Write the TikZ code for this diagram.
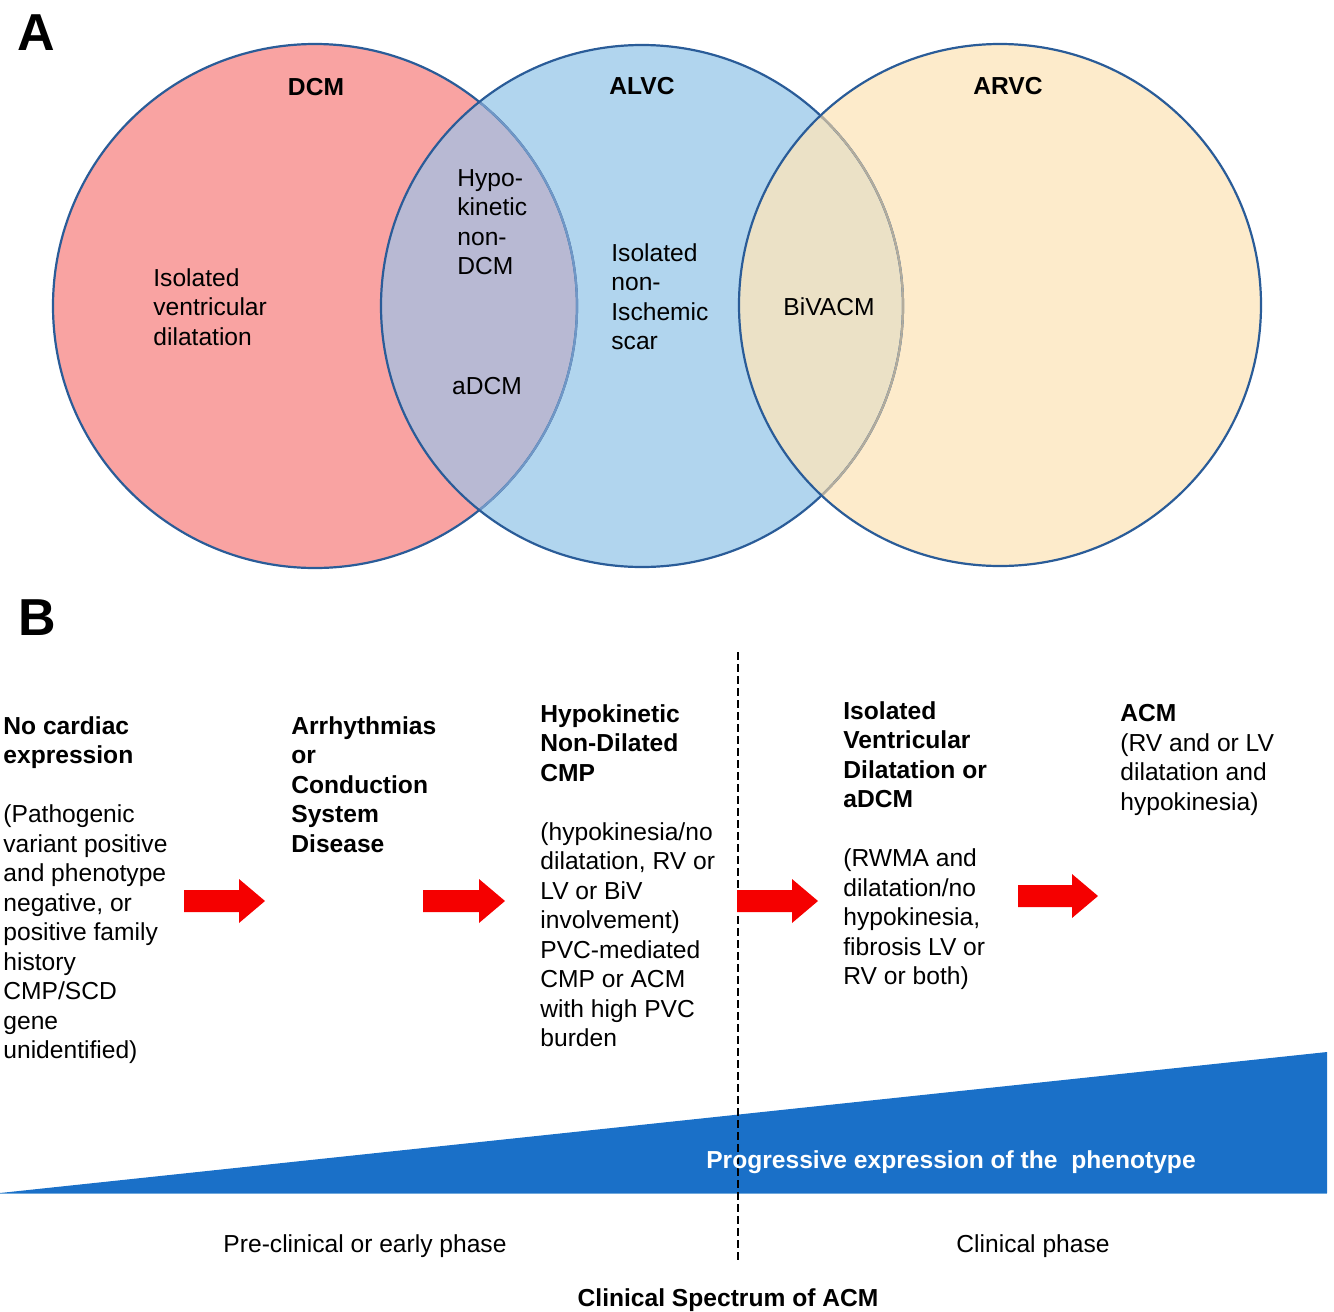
\documentclass[tikz,border=0pt]{standalone}
\usepackage{fontspec}
\setmainfont{Liberation Sans}
\definecolor{dcmfill}{HTML}{F9A3A2}
\definecolor{alvcfill}{HTML}{B1D5EE}
\definecolor{arvcfill}{HTML}{FDEBCB}
\definecolor{mixA}{HTML}{B8B9D3}
\definecolor{mixB}{HTML}{EBE1C6}
\definecolor{vennline}{HTML}{2A5C98}
\definecolor{fadeA}{HTML}{7097C6}
\definecolor{fadeB}{HTML}{B3AC9C}
\definecolor{arrowred}{HTML}{F50000}
\definecolor{triblue}{HTML}{1A70C8}
\definecolor{triedge}{HTML}{6FA8DC}
\begin{document}
\begin{tikzpicture}[x=0.5pt,y=-0.5pt,
  txt/.style={font=\fontsize{12.3}{14.75}\selectfont, inner sep=0pt, align=left, anchor=north west},
  txtc/.style={font=\fontsize{12.3}{14.75}\selectfont, inner sep=0pt},
  ttl/.style={font=\fontsize{12.3}{14.75}\selectfont\bfseries, inner sep=0pt},
  panel/.style={font=\fontsize{26}{30}\selectfont\bfseries, inner sep=0pt},
  venn/.style={draw=vennline, line width=1.1pt},
  redarrow/.style={fill=arrowred, draw=none}]
\useasboundingbox (0,0) rectangle (1334,1312);

% ---------- Panel A: Venn diagram ----------
\fill[dcmfill] (315,306) circle (262);
\fill[alvcfill] (642,306) circle (261);
\fill[arvcfill] (1000,305) circle (261);
\begin{scope}
  \clip (315,306) circle (262);
  \fill[mixA] (642,306) circle (261);
\end{scope}
\begin{scope}
  \clip (642,306) circle (261);
  \fill[mixB] (1000,305) circle (261);
\end{scope}
\draw[venn] (315,306) circle (262);
\begin{scope}
  \clip (642,306) circle (261);
  \draw[line width=1.1pt, fadeA] (315,306) circle (262);
\end{scope}
\draw[venn] (642,306) circle (261);
\begin{scope}
  \clip (1000,305) circle (261);
  \draw[line width=1.1pt, fadeB] (642,306) circle (261);
\end{scope}
\draw[venn] (1000,305) circle (261);

\node[panel] (A) at (36,33) {A};
\node[ttl] (dcmT) at (316,87) {DCM};
\node[ttl] (alvcT) at (642,86) {ALVC};
\node[ttl] (arvcT) at (1008,86) {ARVC};
\node[txt] (ivd) at (153,268) {Isolated\\ventricular\\dilatation};
\node[txt] (hypo) at (457,169) {Hypo-\\kinetic\\non-\\DCM};
\node[txtc] (adcm) at (487,386) {aDCM};
\node[txt] (scar) at (611,243) {Isolated\\non-\\Ischemic\\scar};
\node[txtc] (bivacm) at (829,307) {BiVACM};

% ---------- Panel B ----------
\node[panel] (B) at (37,618) {B};

\fill[triblue] (0,1193) -- (1327,1052) -- (1327,1193) -- cycle;
\draw[triedge, line width=0.5pt] (0,1193) -- (1327,1193);

\coordinate (dtop) at (738,652);
\coordinate (dbot) at (738,1262);
\draw[dashed, dash pattern=on 4pt off 2pt, line width=0.6pt] (dtop) -- (dbot);

\node[txt] (c1) at (3,716) {\textbf{No cardiac}\\\textbf{expression}\\[14.75pt]
(Pathogenic\\variant positive\\and phenotype\\negative, or\\positive family\\history\\CMP/SCD\\gene\\unidentified)};
\node[txt] (c2) at (291,716) {\textbf{Arrhythmias}\\\textbf{or}\\\textbf{Conduction}\\\textbf{System}\\\textbf{Disease}};
\node[txt] (c3) at (540,704) {\textbf{Hypokinetic}\\\textbf{Non-Dilated}\\\textbf{CMP}\\[14.75pt]
(hypokinesia/no\\dilatation, RV or\\LV or BiV\\involvement)\\PVC-mediated\\CMP or ACM\\with high PVC\\burden};
\node[txt] (c4) at (843,701) {\textbf{Isolated}\\\textbf{Ventricular}\\\textbf{Dilatation or}\\\textbf{aDCM}\\[14.75pt]
(RWMA and\\dilatation/no\\hypokinesia,\\fibrosis LV or\\RV or both)};
\node[txt] (c5) at (1120,704) {\textbf{ACM}\\(RV and or LV\\dilatation and\\hypokinesia)};

\foreach \a/\b/\c in {184/265/901, 423/505/901, 737/818/901, 1018/1098/896}
  \fill[redarrow] (\a,\c-11) -- (\b-26,\c-11) -- (\b-26,\c-22) -- (\b,\c)
     -- (\b-26,\c+22) -- (\b-26,\c+11) -- (\a,\c+11) -- cycle;

\node[ttl, text=white] (prog) at (951,1162) {Progressive expression of the\ \ phenotype};
\node[txtc] (pre) at (365,1246) {Pre-clinical or early phase};
\node[txtc] (clin) at (1033,1246) {Clinical phase};
\node[ttl] (spec) at (728,1300) {Clinical Spectrum of ACM};
\end{tikzpicture}
\end{document}
